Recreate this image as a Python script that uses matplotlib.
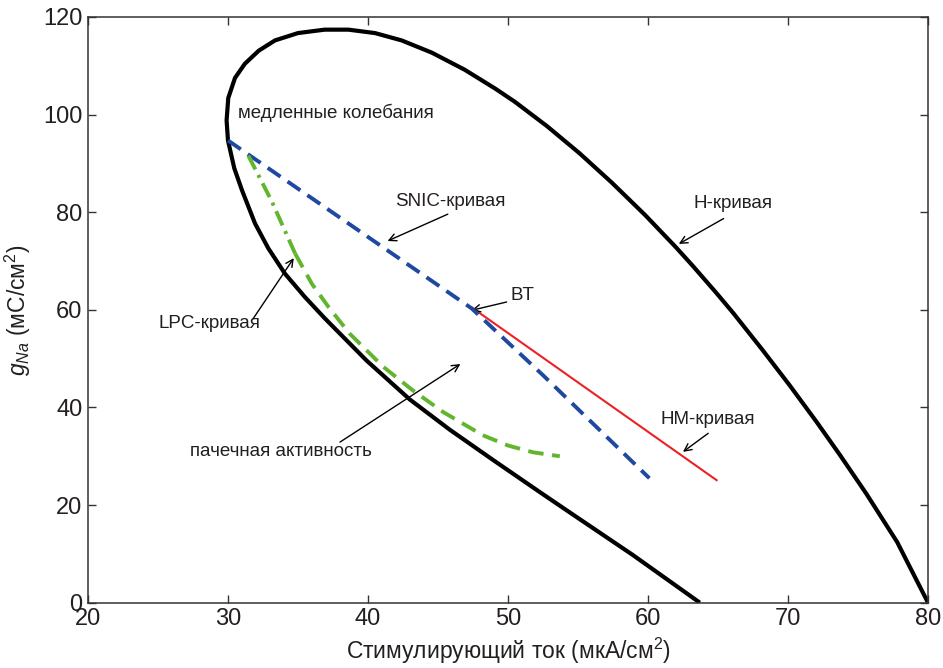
import numpy as np
import matplotlib.pyplot as plt

plt.rcParams['font.family'] = ['Liberation Sans', 'DejaVu Sans']
plt.rcParams['mathtext.fontset'] = 'custom'
plt.rcParams['mathtext.rm'] = 'Liberation Sans'
plt.rcParams['mathtext.it'] = 'Liberation Sans:italic'

# граница (чёрная кривая): нижняя ветвь -> нос -> верх -> правая ветвь
black_I = [63.7, 58.9, 54.2, 52.3, 48.95, 45.86, 43.0, 39.9, 36.9, 35.5,
           34.07, 32.88, 31.93, 31.0, 30.45, 30.0, 29.9, 30.02, 30.5,
           31.2, 32.2, 33.36, 35.0, 36.9, 38.6, 40.5, 42.4, 44.55, 46.9,
           49.1, 50.5, 52.8, 55.1, 57.4, 59.8, 62.0, 63.2, 64.9, 66.1, 68.2,
           70.1, 72.05, 73.7, 75.6, 77.8, 80.0]
black_g = [0.0, 9.8, 18.9, 22.6, 29.2, 35.4, 41.6, 49.6, 58.3, 62.6,
           67.4, 72.6, 77.7, 84.5, 89.0, 94.7, 98.8, 103.4, 107.5,
           110.4, 113.1, 115.2, 116.7, 117.4, 117.4, 116.7, 115.2, 112.7, 109.2,
           105.3, 102.6, 97.6, 92.1, 86.1, 79.4, 72.8, 69.0, 63.4, 59.3, 51.7,
           44.6, 37.0, 30.3, 22.3, 12.4, 0.0]

# SNIC-кривая (синяя)
snic_I = [30.0, 47.4, 52.5, 60.1]
snic_g = [94.7, 60.3, 46.6, 25.5]

# HM-кривая (красная)
hm_I = [47.4, 64.9]
hm_g = [60.5, 25.1]

# LPC-кривая (зелёная): штрих-пунктир, затем штрих
lpc1_I = [31.45, 33.1, 34.8]
lpc1_g = [91.6, 82.4, 71.5]
lpc2_I = [34.8, 36.0, 37.2, 38.7, 41.1, 43.2, 45.4, 48.2, 50.0, 51.8, 53.7]
lpc2_g = [71.5, 65.3, 60.5, 55.1, 48.3, 43.5, 39.0, 34.3, 32.2, 30.8, 30.0]

# подписи: текст, центр текста, хвост стрелки, острие стрелки
labels = ['медленные колебания', 'SNIC-кривая', 'H-кривая', 'BT',
          'LPC-кривая', 'пачечная активность', 'HM-кривая']
label_xy = [(37.7, 100.4), (45.9, 82.2), (66.1, 81.7), (51.0, 63.0),
            (28.7, 57.2), (33.75, 31.0), (64.3, 37.6)]
arrow_tail = [None, (45.7, 79.6), (65.4, 78.7), (49.9, 61.6),
              (31.8, 58.2), (38.0, 32.9), (64.3, 34.7)]
arrow_head = [None, (41.4, 74.1), (62.2, 73.5), (47.4, 59.9),
              (34.7, 70.6), (46.6, 48.9), (62.5, 30.9)]

fig = plt.figure(figsize=(9.43, 6.68), dpi=100)
ax = fig.add_axes([0.0933, 0.0978, 0.8908, 0.8768])

ax.plot(black_I, black_g, color='black', lw=3.0, solid_joinstyle='round',
        solid_capstyle='butt', zorder=2)
ax.plot(hm_I, hm_g, color='#ec2027', lw=1.5, zorder=3)
ax.plot(snic_I, snic_g, color='#1f48a0', lw=2.8, dashes=(4.0, 2.2), zorder=4)
ax.plot(lpc1_I, lpc1_g, color='#62b62e', lw=2.8, dashes=(4.0, 1.6, 0.8, 1.6),
        zorder=4)
ax.plot(lpc2_I, lpc2_g, color='#62b62e', lw=2.8, dashes=(4.0, 2.2),
        dash_joinstyle='round', zorder=4)

for txt, xy, tail, head in zip(labels, label_xy, arrow_tail, arrow_head):
    ax.text(xy[0], xy[1], txt, ha='center', va='center', fontsize=13.5,
            color='#231f20')
    if tail is not None:
        ax.annotate('', xy=head, xytext=tail,
                    arrowprops=dict(arrowstyle='->', color='black', lw=1.0,
                                    shrinkA=0, shrinkB=0, mutation_scale=13))

ax.set_xlim(20, 80)
ax.set_ylim(0, 120)
ax.set_xticks(np.arange(20, 81, 10))
ax.set_yticks(np.arange(0, 121, 20))
ax.tick_params(direction='in', length=6, width=1.0, labelsize=17, pad=4,
               top=True, right=True, colors='#333333', labelcolor='#231f20')
for s in ax.spines.values():
    s.set_linewidth(1.1)
    s.set_color('#333333')

ax.set_xlabel('Стимулирующий ток (мкА/см$^2$)', fontsize=16.5, color='#231f20',
              labelpad=4)
ax.set_ylabel('$g_{Na}$ (мС/см$^2$)', fontsize=16.5, color='#231f20', labelpad=7)

fig.savefig('out.png', dpi=100)
